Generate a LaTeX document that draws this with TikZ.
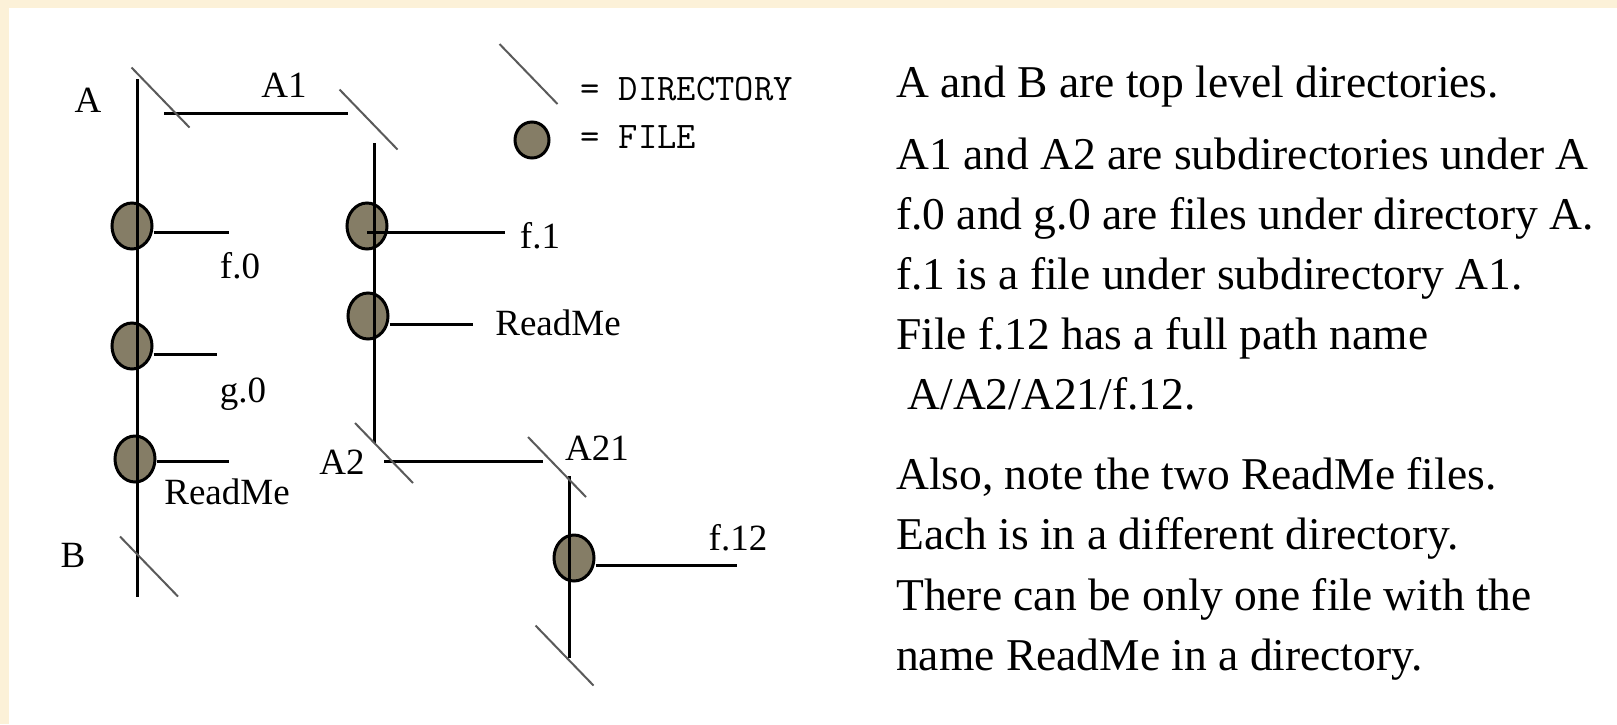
\documentclass[tikz,border=0pt]{standalone}
\usepackage{fontspec}
\setmainfont{Liberation Serif}
\usetikzlibrary{shapes.geometric}
\definecolor{filegrey}{RGB}{133,125,102}
\definecolor{dirgrey}{RGB}{90,90,90}
\definecolor{cream}{RGB}{252,241,216}

\begin{document}
\begin{tikzpicture}[x=1pt,y=-1pt,
    file/.style={ellipse,draw,line width=3pt,fill=filegrey,minimum width=40pt,minimum height=46pt,inner sep=0pt},
    wire/.style={line width=3pt},
    dirmark/.style={draw=dirgrey,line width=2pt},
    lbl/.style={inner sep=0pt,anchor=base,font=\fontsize{37}{40}\selectfont},
    key/.style={inner sep=0pt,anchor=base west,font=\ttfamily\fontsize{37.5}{40}\selectfont},
    note/.style={inner sep=0pt,anchor=base west,font=\fontsize{45.5}{56}\selectfont}]
  \useasboundingbox (0,0) rectangle (1617,724);
  \fill[cream] (0,0) rectangle (1617,724);
  \fill[white] (9,8) rectangle (1617,724);

  \node[file] (f0) at (132,226) {};
  \node[file] (g0) at (132,346) {};
  \node[file] (rmA) at (135,459) {};
  \node[file] (f1) at (367,226) {};
  \node[file] (rmA1) at (368,316) {};
  \node[file] (f12) at (574,558) {};
  \node[file,minimum width=34pt,minimum height=36pt] (fkey) at (532,140) {};

  \coordinate (Atop) at (137,79);
  \coordinate (Bbot) at (137,597);
  \coordinate (A1left) at (164,113);
  \coordinate (A1right) at (348,113);
  \coordinate (A1top) at (374,143);
  \coordinate (A1bot) at (374,443);
  \coordinate (A2left) at (384,461);
  \coordinate (A2right) at (543,461);
  \coordinate (A21top) at (569,476);
  \coordinate (A21bot) at (569,658);
  \coordinate (f0end) at (229,232);
  \coordinate (g0end) at (217,354);
  \coordinate (rmAend) at (229,461);
  \coordinate (f1end) at (505,232);
  \coordinate (rmA1end) at (473,324);
  \coordinate (f12end) at (737,565);

  \coordinate (dA) at (160.5,97.5);
  \coordinate (dA1) at (368.5,119.5);
  \coordinate (dkey) at (528.5,74);
  \coordinate (dA2) at (384,453);
  \coordinate (dA21) at (557,467);
  \coordinate (dB) at (149,566.5);
  \coordinate (dA21end) at (564.5,655.5);

  \begin{scope}[wire]
    \draw (Atop) -- (Bbot);
    \draw (A1left) -- (A1right);
    \draw (A1top) -- (A1bot);
    \draw (A2left) -- (A2right);
    \draw (A21top) -- (A21bot);
    \draw (f0.east |- f0end) -- (f0end);
    \draw (g0.east |- g0end) -- (g0end);
    \draw (rmA.east |- rmAend) -- (rmAend);
    \draw (f1 |- f1end) -- (f1end);
    \draw (rmA1.east |- rmA1end) -- (rmA1end);
    \draw (f12.east |- f12end) -- (f12end);
  \end{scope}

  \foreach \d in {dA,dA1,dkey,dA2,dA21,dB,dA21end}
    \draw[dirmark] (\d) +(-29,-30) -- +(29,30);

  \node[lbl] (lA) at (88,112) {A};
  \node[lbl] (lA1) at (284,97) {A1};
  \node[lbl] (lf0) at (240,278) {f.0};
  \node[lbl] (lg0) at (243,402) {g.0};
  \node[lbl] (lrmA) at (227,504) {ReadMe};
  \node[lbl] (lB) at (73,567) {B};
  \node[lbl] (lf1) at (540,248) {f.1};
  \node[lbl] (lrmA1) at (558,335) {ReadMe};
  \node[lbl] (lA2) at (342,474) {A2};
  \node[lbl] (lA21) at (597,460) {A21};
  \node[lbl] (lf12) at (738,550) {f.12};

  \node[key] (kdir) at (580,100) {= DIRECTORY};
  \node[key] (kfile) at (580,148) {= FILE};

  \node[note] (n1) at (896,97) {A and B are top level directories.};
  \node[note] (n2) at (896,169) {A1 and A2 are subdirectories under A};
  \node[note] (n3) at (896,229) {f.0 and g.0 are files under directory A.};
  \node[note] (n4) at (896,289) {f.1 is a file under subdirectory A1.};
  \node[note] (n5) at (896,349) {File f.12 has a full path name};
  \node[note] (n6) at (896,409) {\ A/A2/A21/f.12.};
  \node[note] (n7) at (896,489) {Also, note the two ReadMe files.};
  \node[note] (n8) at (896,549) {Each is in a different directory.};
  \node[note] (n9) at (896,610) {There can be only one file with the};
  \node[note] (n10) at (896,670) {name ReadMe in a directory.};
\end{tikzpicture}
\end{document}
